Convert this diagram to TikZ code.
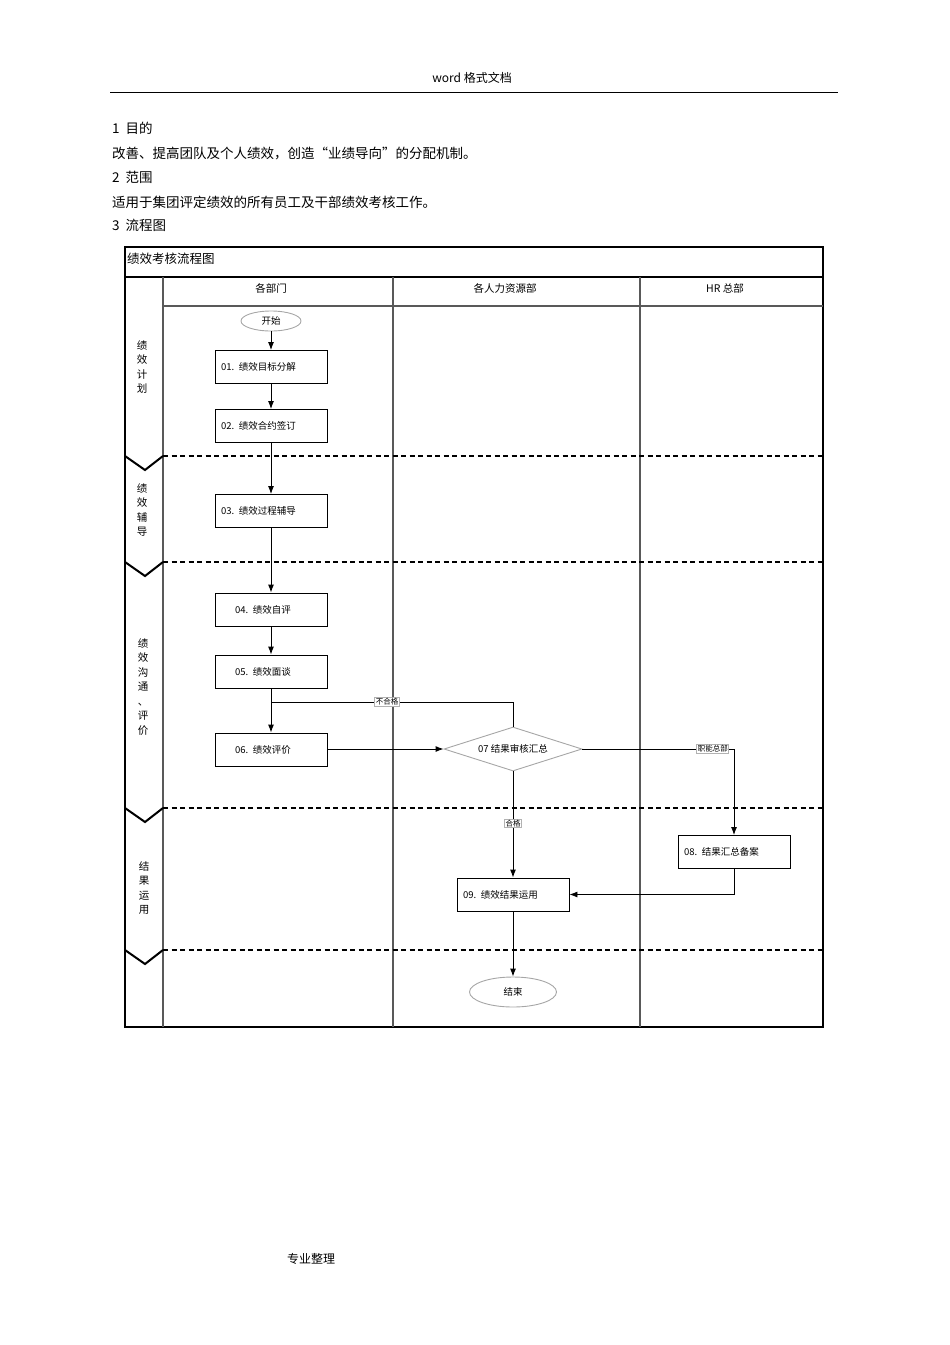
\documentclass[tikz,border=0pt]{standalone}
\usepackage{fontspec}
\setmainfont{Noto Sans CJK SC}
\usetikzlibrary{arrows.meta,shapes.geometric}
\begin{document}
\begin{tikzpicture}[x=1pt,y=-1pt,
  txt/.style={anchor=west,inner sep=0pt,font=\fontsize{13.5}{16}\selectfont},
  box/.style={draw,line width=0.9pt,minimum height=33pt,inner ysep=0pt,inner xsep=6pt,text width=100pt,align=left,font=\fontsize{9.5}{12}\selectfont},
  boxc/.style={box,inner xsep=20pt,text width=72pt},
  term/.style={draw=gray!70,line width=0.9pt,ellipse,inner sep=0pt,font=\fontsize{9.5}{12}\selectfont},
  dec/.style={draw=gray!70,line width=0.9pt,diamond,aspect=3.14,inner sep=0pt,minimum width=138pt,minimum height=44pt,font=\fontsize{9.5}{12}\selectfont},
  flow/.style={line width=0.9pt,-{Latex[length=8pt,width=6pt]}},
  plain/.style={line width=0.9pt},
  elab/.style={draw=gray!60,fill=white,inner sep=1pt,font=\fontsize{7.5}{8}\selectfont},
  lanev/.style={draw=gray!70!black,line width=1.4pt},
  sep/.style={line width=1.8pt,dash pattern=on 5pt off 3.5pt},
  chev/.style={line width=2pt},
  lanelab/.style={align=center,inner sep=0pt,font=\fontsize{10.5}{14.5}\selectfont},
  colhead/.style={inner sep=0pt,font=\fontsize{10.5}{12}\selectfont}]
\useasboundingbox (0,0) rectangle (950,1345);
% page header
\node[inner sep=0pt,font=\fontsize{12}{14}\selectfont] (hdr) at (472,78) {word 格式文档};
\draw[line width=1pt] (110,92) -- (838,92);
\node[txt] (t1) at (112,128) {1\ \ 目的};
\node[txt] (t2) at (112,153) {改善、提高团队及个人绩效，创造“业绩导向”的分配机制。};
\node[txt] (t3) at (112,177) {2\ \ 范围};
\node[txt] (t4) at (112,202) {适用于集团评定绩效的所有员工及干部绩效考核工作。};
\node[txt] (t5) at (112,225) {3\ \ 流程图};
\node[inner sep=0pt,font=\fontsize{12}{14}\selectfont] (foot) at (311,1259) {专业整理};
% frame
\draw[line width=1.1pt] (125,247) rectangle (823,1027);
\draw[line width=1.3pt] (125,277) -- (823,277);
\draw[lanev] (163,306) -- (823,306);
\draw[lanev] (163,277) -- (163,1027);
\draw[lanev] (393,277) -- (393,1027);
\draw[lanev] (640,277) -- (640,1027);
\node[anchor=west,inner sep=0pt,font=\fontsize{12.5}{14}\selectfont] (title) at (127,259) {绩效考核流程图};
\node[colhead] (c1) at (271,288) {各部门};
\node[colhead] (c2) at (505,288) {各人力资源部};
\node[colhead] (c3) at (725,288) {HR\ 总部};
% phase separators
\foreach \yy in {456,562,808,950}{
  \draw[sep] (163,\yy) -- (823,\yy);
  \draw[chev,line join=miter] (125,\yy) -- (145,\yy+14) -- (163,\yy);
}
\node[lanelab] (p1) at (142,367) {绩\\效\\计\\划};
\node[lanelab] (p2) at (142,510) {绩\\效\\辅\\导};
\node[lanelab] (p3) at (143,687) {绩\\效\\沟\\通\\、\\评\\价};
\node[lanelab] (p4) at (144,888) {结\\果\\运\\用};
% nodes
\node[term,minimum width=60pt,minimum height=20pt] (start) at (271,321) {开始};
\node[box] (b01) at (271,367) {01. 绩效目标分解};
\node[box] (b02) at (271,426) {02. 绩效合约签订};
\node[box] (b03) at (271,511) {03. 绩效过程辅导};
\node[boxc] (b04) at (271,609.5) {04. 绩效自评};
\node[boxc] (b05) at (271,671.5) {05. 绩效面谈};
\node[boxc] (b06) at (271,749.5) {06. 绩效评价};
\node[dec] (d07) at (513,749) {07 结果审核汇总};
\node[box] (b08) at (734,852) {08. 结果汇总备案};
\node[box] (b09) at (513,894.5) {09. 绩效结果运用};
\node[term,minimum width=87pt,minimum height=30pt] (end) at (513,992) {结束};
\coordinate (j05) at (271,702);
% connectors
\draw[flow] (start) -- (b01);
\draw[flow] (b01) -- (b02);
\draw[flow] (b02) -- (b03);
\draw[flow] (b03) -- (b04);
\draw[flow] (b04) -- (b05);
\draw[flow] (b05) -- (b06);
\draw[flow] (b06.east |- d07) -- (d07.west);
\draw[plain] (d07.north) |- node[elab,pos=0.76] (l1) {不合格} (j05);
\draw[flow] (d07.east) -| node[elab,pos=0.43] (l2) {职能总部} (b08.north);
\draw[flow] (d07.south) -- node[elab,pos=0.49] (l3) {合格} (b09.north);
\draw[flow] (b08.south) |- (b09.east);
\draw[flow] (b09) -- (end);
\end{tikzpicture}
\end{document}
